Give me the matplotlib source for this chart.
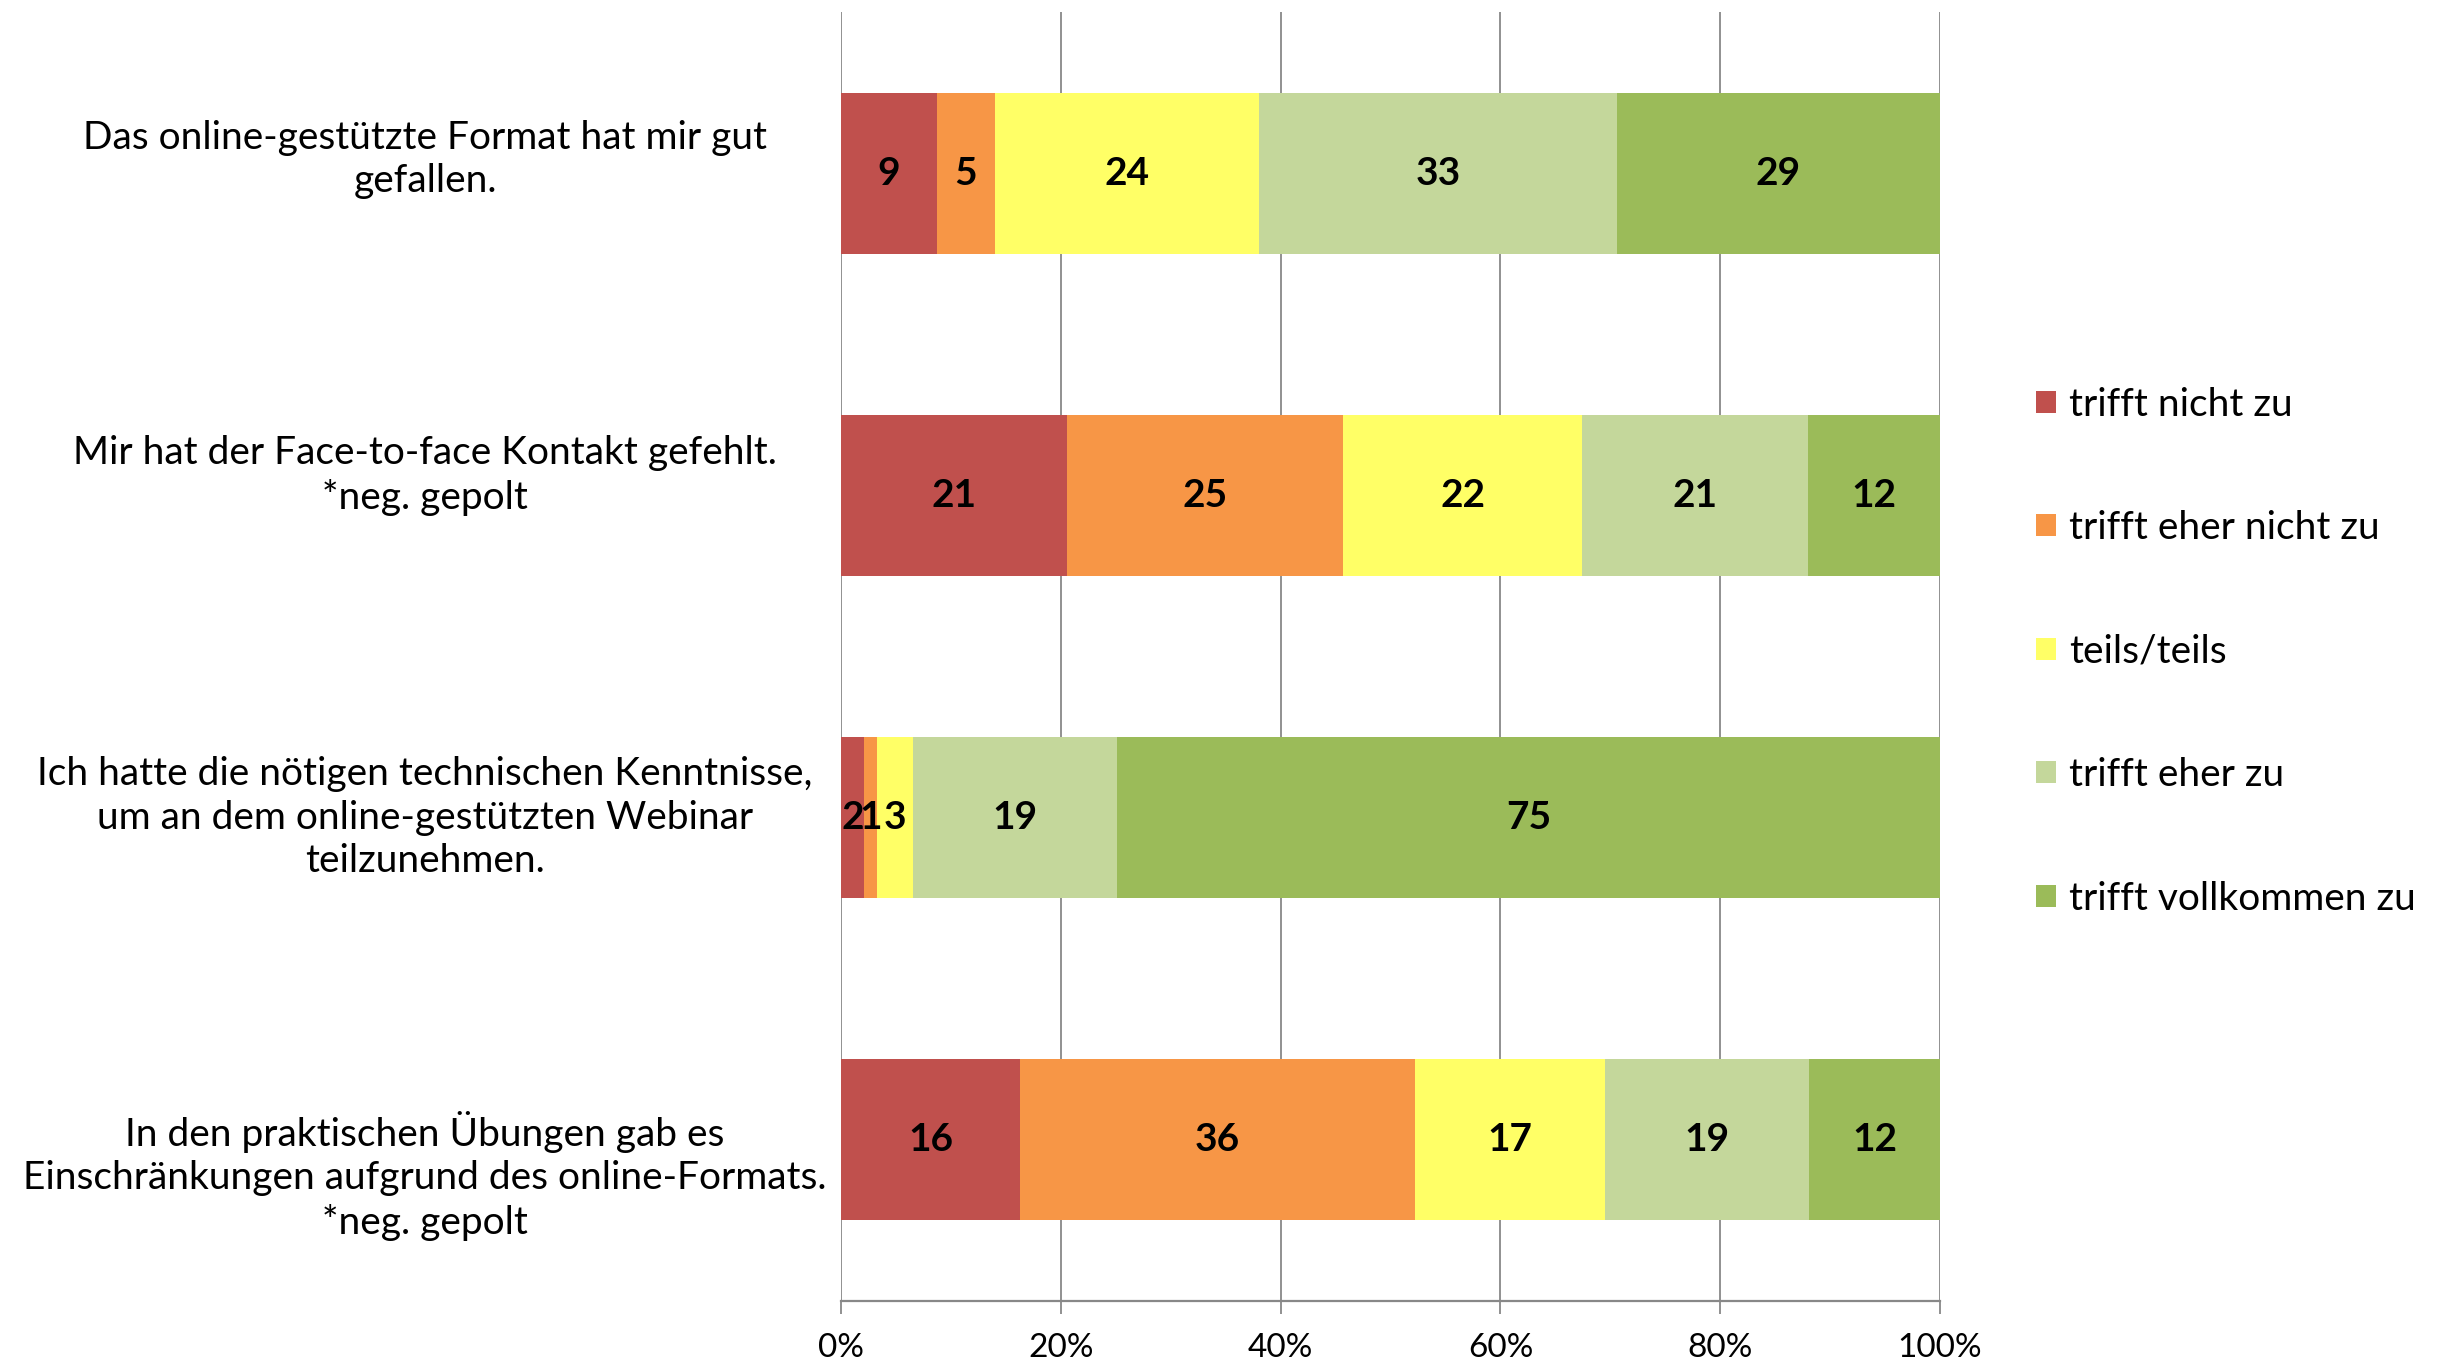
import numpy as np
import matplotlib
matplotlib.use("Agg")
import matplotlib.pyplot as plt
from matplotlib.transforms import blended_transform_factory, ScaledTranslation

# ==================== DATA ====================
statements = [
    "Das online-gestützte Format hat mir gut\ngefallen.",
    "Mir hat der Face-to-face Kontakt gefehlt.\n*neg. gepolt",
    "Ich hatte die nötigen technischen Kenntnisse,\num an dem online-gestützten Webinar\nteilzunehmen.",
    "In den praktischen Übungen gab es\nEinschränkungen aufgrund des online-Formats.\n*neg. gepolt",
]
answers = ["trifft nicht zu", "trifft eher nicht zu", "teils/teils",
           "trifft eher zu", "trifft vollkommen zu"]

# percent per answer, one list per statement
nicht_zu = [8.7, 20.6, 2.1, 16.3]
eher_nicht_zu = [5.3, 25.1, 1.2, 35.9]
teils = [24.0, 21.7, 3.2, 17.3]
eher_zu = [32.6, 20.6, 18.6, 18.6]
vollkommen_zu = [29.4, 12.0, 74.9, 11.9]

xticks = [0, 20, 40, 60, 80, 100]

# ==================== STYLE ====================
colors = ["#C0504D", "#F79646", "#FFFF66", "#C4D79B", "#9BBB59"]
font = "Lato"
label_dy = [-14, -20, 0, 36]   # small vertical nudges of the statement texts (px)

plt.rcParams["font.family"] = [font, "DejaVu Sans"]

fig = plt.figure(figsize=(24.43, 13.66), dpi=100)
ax = fig.add_axes([0.3443, 0.0476, 0.4498, 0.9436])

series = [nicht_zu, eher_nicht_zu, teils, eher_zu, vollkommen_zu]
y = np.arange(len(statements))
left = np.zeros(len(statements))
handles = []
for vals, col, name in zip(series, colors, answers):
    vals = np.array(vals)
    b = ax.barh(y, vals, left=left, height=0.5, color=col, edgecolor="none",
                label=name, zorder=3)
    handles.append(b)
    for yi, l, v in zip(y, left, vals):
        ax.text(l + v / 2, yi, f"{v:.0f}", ha="center", va="center",
                fontsize=28, fontweight="bold", color="black", zorder=4)
    left += vals

ax.set_xlim(0, 100)
ax.set_ylim(len(statements) - 0.5, -0.5)
ax.set_xticks(xticks)
ax.set_xticklabels([f"{t}%" for t in xticks], fontsize=24)
ax.set_yticks([])
ax.grid(axis="x", color="#888888", linewidth=1.3, zorder=0)
for s in ["top", "right", "left"]:
    ax.spines[s].set_visible(False)
ax.spines["bottom"].set_color("#888888")
ax.spines["bottom"].set_linewidth(1.6)
ax.tick_params(axis="x", length=9, width=1.3, color="#888888", pad=14)

trans = blended_transform_factory(fig.transFigure, ax.transData)
for yi, txt, dy in zip(y, statements, label_dy):
    ax.text(0.174, yi, txt, ha="center", va="center",
            multialignment="center", fontsize=28, linespacing=1.25,
            transform=trans + ScaledTranslation(0, -dy / 100, fig.dpi_scale_trans))

fig.legend(handles=handles, labels=answers, loc="center left",
           bbox_to_anchor=(0.8255, 0.523), frameon=False, fontsize=28,
           handlelength=0.5, handleheight=0.5, handletextpad=0.35,
           labelspacing=2.25, borderpad=0)

fig.savefig("out.png", dpi=100)
